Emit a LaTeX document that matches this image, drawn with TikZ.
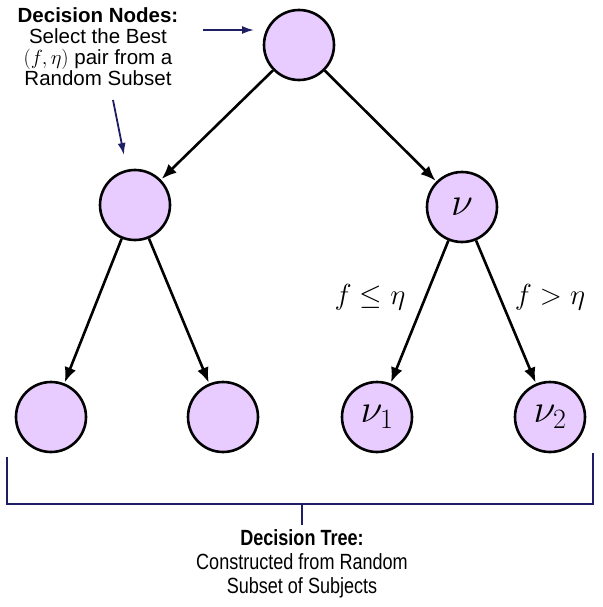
\documentclass[tikz,border=0pt]{standalone}
\usepackage{fix-cm}
\usepackage{amsmath}
\usepackage{xcolor}
\usepackage{fontspec}
\setmainfont{Liberation Sans}
\newfontfamily\narrowfont[FakeStretch=0.82]{Liberation Sans}
\usepackage{tikz}
\usetikzlibrary{arrows.meta, positioning}

\definecolor{nodefill}{RGB}{233,204,255}
\definecolor{notenavy}{RGB}{30,30,100}

\tikzset{
  treenode/.style={circle, draw=black, line width=2.6pt, fill=nodefill, minimum size=70pt, inner sep=0pt, font=\fontsize{40}{40}\selectfont},
  branch/.style={line width=2.6pt, -{Latex[length=15pt,width=12pt]}, shorten >=1pt},
  notearrow/.style={notenavy, line width=1.8pt, -{Latex[length=12pt,width=8pt]}},
  bracket/.style={notenavy, line width=2pt},
  lbl/.style={font=\fontsize{29}{29}\selectfont}
}

\begin{document}
\begin{tikzpicture}[x=1pt,y=-1pt]
\useasboundingbox (0,0) rectangle (602,607);

% tree nodes
\node[treenode] (root) at (299,45) {};
\node[treenode] (lft) at (135,205) {};
\node[treenode] (nu) at (462,207) {$\nu$};
\node[treenode] (ll) at (51,417) {};
\node[treenode] (lr) at (223,417) {};
\node[treenode] (nu1) at (377,417) {$\nu_1$};
\node[treenode] (nu2) at (550,417) {$\nu_2$};

% branches
\draw[branch] (root) -- (lft);
\draw[branch] (root) -- (nu);
\draw[branch] (lft) -- (ll);
\draw[branch] (lft) -- (lr);
\draw[branch] (nu) -- (nu1);
\draw[branch] (nu) -- (nu2);

\node[lbl] (leq) at (370,297) {$f \leq \eta$};
\node[lbl] (gt) at (550,297) {$f > \eta$};

% decision node note
\node[align=center, font=\fontsize{20.5}{21}\selectfont] (dnote) at (98,47)
  {\textbf{Decision Nodes:}\\Select the Best\\$(f,\eta)$ pair from a\\Random Subset};
\coordinate (a1s) at (203,30);
\coordinate (a1e) at (254,30);
\coordinate (a2s) at (113,100);
\coordinate (a2e) at (124,155);
\draw[notearrow] (a1s) -- (a1e);
\draw[notearrow] (a2s) -- (a2e);

% tree bracket
\coordinate (bl) at (7,457);
\coordinate (br) at (593,453);
\coordinate (bm) at (302,504);
\draw[bracket] (bl) -- (7,504) -- (593,504) -- (br);
\draw[bracket] (bm) -- (302,525);
\node[align=center, font=\narrowfont\fontsize{22}{24}\selectfont] (tnote) at (302,564)
  {\textbf{Decision Tree:}\\Constructed from Random\\Subset of Subjects};
\end{tikzpicture}
\end{document}
